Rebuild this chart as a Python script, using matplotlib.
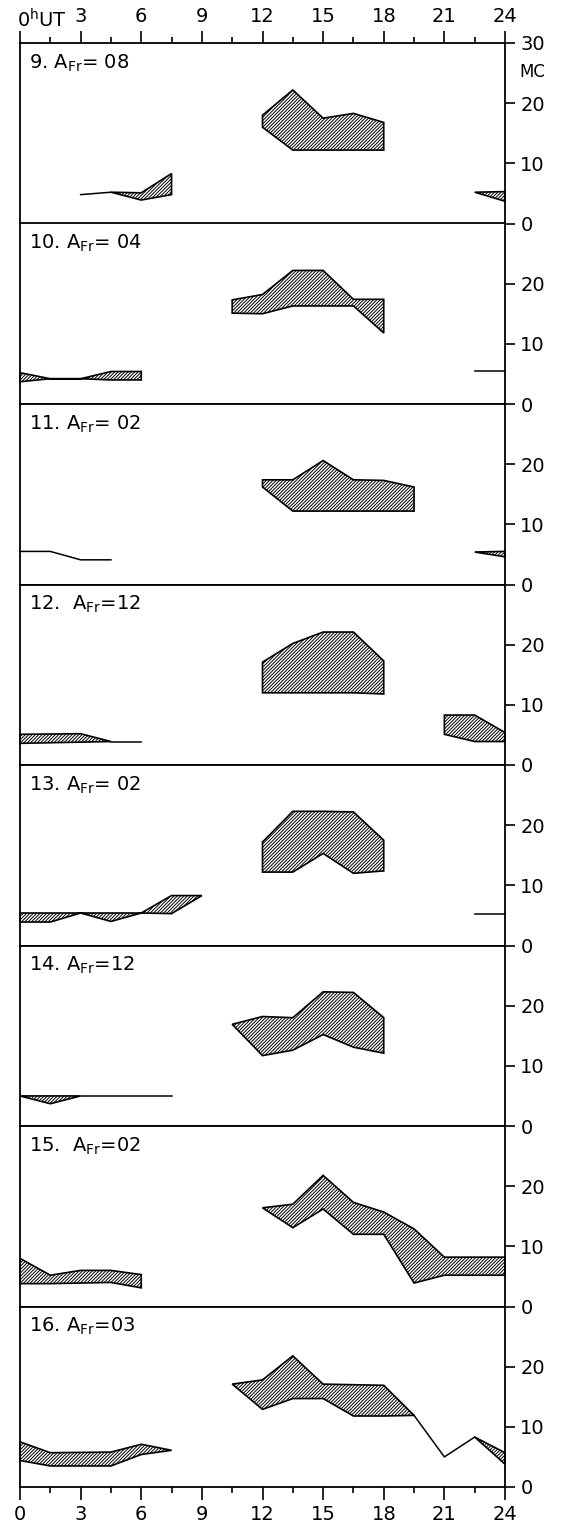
import matplotlib
matplotlib.use("Agg")
import matplotlib.pyplot as plt
from matplotlib.ticker import MultipleLocator
from matplotlib.transforms import blended_transform_factory

plt.rcParams['font.family'] = ['DejaVu Sans']
plt.rcParams['mathtext.fontset'] = 'dejavusans'
plt.rcParams['hatch.linewidth'] = 0.7

# ---------------- data (hours UT, MC) ----------------
# each band: (hours, upper edge, lower edge); lines: (hours, value)

titles = [r"9. A$_{\mathrm{Fr}}$= 08", r"10. A$_{\mathrm{Fr}}$= 04", r"11. A$_{\mathrm{Fr}}$= 02",
          r"12.  A$_{\mathrm{Fr}}$=12", r"13. A$_{\mathrm{Fr}}$= 02", r"14. A$_{\mathrm{Fr}}$=12",
          r"15.  A$_{\mathrm{Fr}}$=02", r"16. A$_{\mathrm{Fr}}$=03"]

d9_bands = [([12, 13.5, 15, 16.5, 18], [18, 22.2, 17.5, 18.3, 16.8], [16, 12.2, 12.2, 12.2, 12.2]),
            ([4.5, 6, 7.5], [5.2, 5.1, 8.3], [5.2, 3.9, 4.8]),
            ([22.5, 24], [5.2, 5.3], [5.2, 3.7])]
d9_lines = [([3, 4.5], [4.8, 5.2])]

d10_bands = [([10.5, 12, 13.5, 15, 16.5, 18], [17.3, 18.2, 22.2, 22.2, 17.4, 17.4], [15.1, 15.0, 16.3, 16.3, 16.3, 11.8]),
             ([0, 1.5, 3, 4.5, 6], [5.2, 4.2, 4.2, 5.4, 5.4], [3.7, 4.2, 4.2, 4.0, 4.0])]
d10_lines = [([22.5, 24], [5.5, 5.5])]

d11_bands = [([12, 13.5, 15, 16.5, 18, 19.5], [17.4, 17.4, 20.6, 17.4, 17.3, 16.2], [16.2, 12.2, 12.2, 12.2, 12.2, 12.2]),
             ([22.5, 24], [5.4, 5.5], [5.4, 4.6])]
d11_lines = [([0, 1.5, 3, 4.5], [5.5, 5.5, 4.1, 4.1])]

d12_bands = [([12, 13.5, 15, 16.5, 18], [17.1, 20.2, 22.1, 22.1, 17.3], [12.0, 12.0, 12.0, 12.0, 11.8]),
             ([0, 3, 4.5], [5.1, 5.2, 3.9], [3.6, 3.8, 3.9]),
             ([21, 22.5, 24], [8.3, 8.3, 5.4], [5.1, 3.9, 3.9])]
d12_lines = [([4.5, 6], [3.9, 3.9])]

d13_bands = [([12, 13.5, 15, 16.5, 18], [17.2, 22.3, 22.3, 22.2, 17.5], [12.2, 12.2, 15.3, 12.0, 12.4]),
             ([0, 1.5, 3, 4.5, 6, 7.5, 9], [5.4, 5.4, 5.4, 5.4, 5.4, 8.3, 8.3], [3.9, 3.9, 5.4, 4.0, 5.4, 5.3, 8.3])]
d13_lines = [([22.5, 24], [5.3, 5.3])]

d14_bands = [([10.5, 12, 13.5, 15, 16.5, 18], [16.9, 18.2, 18.0, 22.3, 22.2, 18.0], [16.9, 11.7, 12.6, 15.2, 13.1, 12.1]),
             ([0, 1.5, 3], [5.0, 5.0, 5.0], [5.0, 3.7, 5.0])]
d14_lines = [([3, 7.5], [5.0, 5.0])]

d15_bands = [([12, 13.5, 15, 16.5, 18, 19.5, 21, 24], [16.4, 17.0, 21.8, 17.3, 15.7, 12.9, 8.2, 8.2],
              [16.4, 13.1, 16.2, 12.0, 12.0, 3.9, 5.2, 5.2]),
             ([0, 1.5, 3, 4.5, 6], [8.0, 5.2, 6.0, 6.0, 5.3], [3.8, 3.8, 3.9, 4.0, 3.1])]
d15_lines = []

d16_bands = [([10.5, 12, 13.5, 15, 16.5, 18, 19.5], [17.1, 17.8, 21.8, 17.1, 17.0, 16.9, 11.9],
              [17.1, 12.9, 14.7, 14.7, 11.8, 11.8, 11.9]),
             ([0, 1.5, 4.5, 6, 7.5], [7.5, 5.7, 5.8, 7.1, 6.1], [4.4, 3.5, 3.5, 5.4, 6.1]),
             ([22.5, 24], [8.3, 5.7], [8.3, 3.8])]
d16_lines = [([19.5, 21, 22.5], [11.9, 5.0, 8.3])]

all_bands = [d9_bands, d10_bands, d11_bands, d12_bands, d13_bands, d14_bands, d15_bands, d16_bands]
all_lines = [d9_lines, d10_lines, d11_lines, d12_lines, d13_lines, d14_lines, d15_lines, d16_lines]

hour_ticks = [0, 3, 6, 9, 12, 15, 18, 21, 24]

# ---------------- layout ----------------
W, H = 568, 1529
left, right = 20 / W, 505 / W
top, bottom = 1 - 43 / H, 1 - 1487 / H
n = len(titles)
ph = (top - bottom) / n

fig = plt.figure(figsize=(W / 100, H / 100), dpi=100)

for i in range(n):
    ax = fig.add_axes([left, top - (i + 1) * ph, right - left, ph])
    ax.set_xlim(0, 24)
    ax.set_ylim(0, 30)
    for s in ax.spines.values():
        s.set_linewidth(1.3)

    for x, hi, lo in all_bands[i]:
        xs = list(x) + list(x[::-1])
        ys = list(hi) + list(lo[::-1])
        ax.fill(xs, ys, facecolor='none', edgecolor='black', hatch='//////////', linewidth=1.2, clip_on=False)
    for x, y in all_lines[i]:
        ax.plot(x, y, color='black', linewidth=1.1, clip_on=False)

    ax.text(0.018, 0.86, titles[i], transform=ax.transAxes, fontsize=14, va='baseline', ha='left')

    # right MC scale
    ax.yaxis.tick_right()
    ax.set_yticks([0, 10, 20, 30] if i == 0 else [0, 10, 20])
    ax.tick_params(axis='y', direction='out', length=7, width=1.2, pad=4, labelsize=14)

    ax.xaxis.set_major_locator(MultipleLocator(3))
    ax.xaxis.set_minor_locator(MultipleLocator(1.5))
    if i == 0:
        ax.xaxis.set_ticks_position('top')
        ax.set_xticks(hour_ticks)
        ax.set_xticklabels([''] + [str(h) for h in hour_ticks[1:]])
        ax.tick_params(axis='x', which='major', direction='out', length=9, width=1.2, pad=3, labelsize=14)
        ax.tick_params(axis='x', which='minor', direction='out', length=4, width=1.2)
        trans = blended_transform_factory(ax.transData, ax.transAxes)
        ax.text(-0.15, 1.0 + 12 / (ph * H), r"0$^{\mathrm{h}}$UT", transform=trans, fontsize=14,
                ha='left', va='bottom')
        ax.text(1.03, 25.2, "MC", transform=blended_transform_factory(ax.transAxes, ax.transData),
                fontsize=12, ha='left', va='center')
    elif i == n - 1:
        ax.xaxis.set_ticks_position('bottom')
        ax.set_xticks(hour_ticks)
        ax.set_xticklabels([str(h) for h in hour_ticks])
        ax.tick_params(axis='x', which='major', direction='out', length=9, width=1.2, pad=4, labelsize=14)
        ax.tick_params(axis='x', which='minor', direction='out', length=4, width=1.2)
    else:
        ax.tick_params(axis='x', which='both', bottom=False, top=False, labelbottom=False)

fig.savefig("out.png", dpi=100)
